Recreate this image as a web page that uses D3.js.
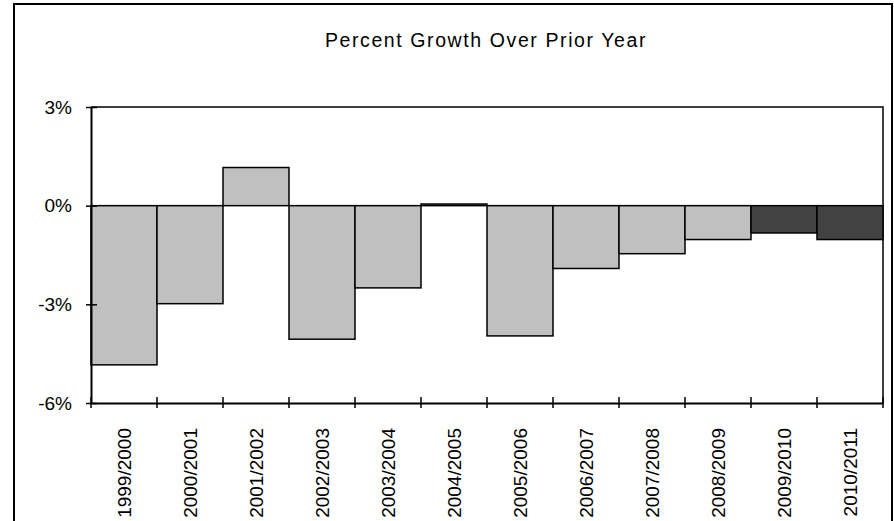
<!DOCTYPE html>
<html>
<head>
<meta charset="utf-8">
<script src="https://cdn.jsdelivr.net/npm/d3@7"></script>
<style>
  html, body { margin: 0; padding: 0; background: #fff; }
  svg { display: block; }
  text { font-family: "Liberation Sans", Arial, sans-serif; fill: #000; }
</style>
</head>
<body>
<svg id="chart" width="894" height="521"></svg>
<script>
const title = "Percent Growth Over Prior Year";
const categories = ["1999/2000","2000/2001","2001/2002","2002/2003","2003/2004","2004/2005",
                    "2005/2006","2006/2007","2007/2008","2008/2009","2009/2010","2010/2011"];
const values = [-4.84, -2.98, 1.16, -4.06, -2.5, 0.05, -3.96, -1.91, -1.46, -1.03, -0.83, -1.03];
const projected = [false,false,false,false,false,false,false,false,false,false,true,true];
const yTicks = [-6, -3, 0, 3];
const yDomain = [-6, 3];

const svg = d3.select("#chart");
const plot = { left: 91, right: 883, top: 107, bottom: 403 };
const fontSize = 19;

// outer frame
svg.append("rect")
  .attr("x", 14).attr("y", 4)
  .attr("width", 878).attr("height", 540)
  .attr("fill", "none").attr("stroke", "#000").attr("stroke-width", 2);

const x = d3.scaleBand().domain(categories).range([plot.left, plot.right]).padding(0);
const y = d3.scaleLinear().domain(yDomain).range([plot.bottom, plot.top]);

// title
svg.append("text")
  .attr("x", 486).attr("y", 47)
  .attr("text-anchor", "middle")
  .style("font-size", "19.5px")
  .style("letter-spacing", "1.6px")
  .text(title);

// plot border (top and right)
svg.append("path")
  .attr("d", `M${plot.left},${plot.top}H${plot.right}V${plot.bottom}`)
  .attr("fill", "none").attr("stroke", "#000").attr("stroke-width", 1.5);

// bars
svg.append("g").selectAll("rect")
  .data(categories.map((c, i) => ({ c, v: values[i], p: projected[i] })))
  .join("rect")
  .attr("x", d => x(d.c))
  .attr("width", x.bandwidth())
  .attr("y", d => y(Math.max(0, d.v)))
  .attr("height", d => Math.abs(y(d.v) - y(0)))
  .attr("fill", d => d.p ? "#424242" : "#c0c0c0")
  .attr("stroke", "#000")
  .attr("stroke-width", 1.5);

// y axis
const yAxis = d3.axisLeft(y).tickValues(yTicks).tickFormat(d => d + "%").tickSizeInner(5).tickSizeOuter(0).tickPadding(14);
const gy = svg.append("g").attr("transform", `translate(${plot.left},0)`).call(yAxis);
gy.select(".domain").attr("stroke", "#000").attr("stroke-width", 2);
gy.selectAll(".tick line").attr("x1", -5).attr("x2", 6).attr("stroke", "#000").attr("stroke-width", 1.5);
gy.selectAll(".tick text").style("font-size", fontSize + "px").style("font-family", "Liberation Sans, Arial, sans-serif").attr("fill", "#000");

// x axis at the bottom (y = -6)
const xAxis = d3.axisBottom(x).tickSize(0).tickSizeOuter(0);
const gx = svg.append("g").attr("transform", `translate(0,${plot.bottom})`).call(xAxis);
gx.select(".domain").attr("stroke", "#000").attr("stroke-width", 2);
gx.selectAll(".tick text")
  .style("font-size", fontSize + "px")
  .style("font-family", "Liberation Sans, Arial, sans-serif")
  .attr("fill", "#000")
  .attr("text-anchor", "end")
  .attr("transform", "rotate(-90)")
  .attr("x", -25).attr("y", 0).attr("dy", "0.35em");

// x tick marks at band boundaries
const boundaries = categories.map(c => x(c)).concat([x(categories[categories.length - 1]) + x.bandwidth()]);
gx.append("g").selectAll("line")
  .data(boundaries)
  .join("line")
  .attr("x1", d => d).attr("x2", d => d)
  .attr("y1", -6).attr("y2", 5)
  .attr("stroke", "#000").attr("stroke-width", 1.5);
</script>
</body>
</html>
